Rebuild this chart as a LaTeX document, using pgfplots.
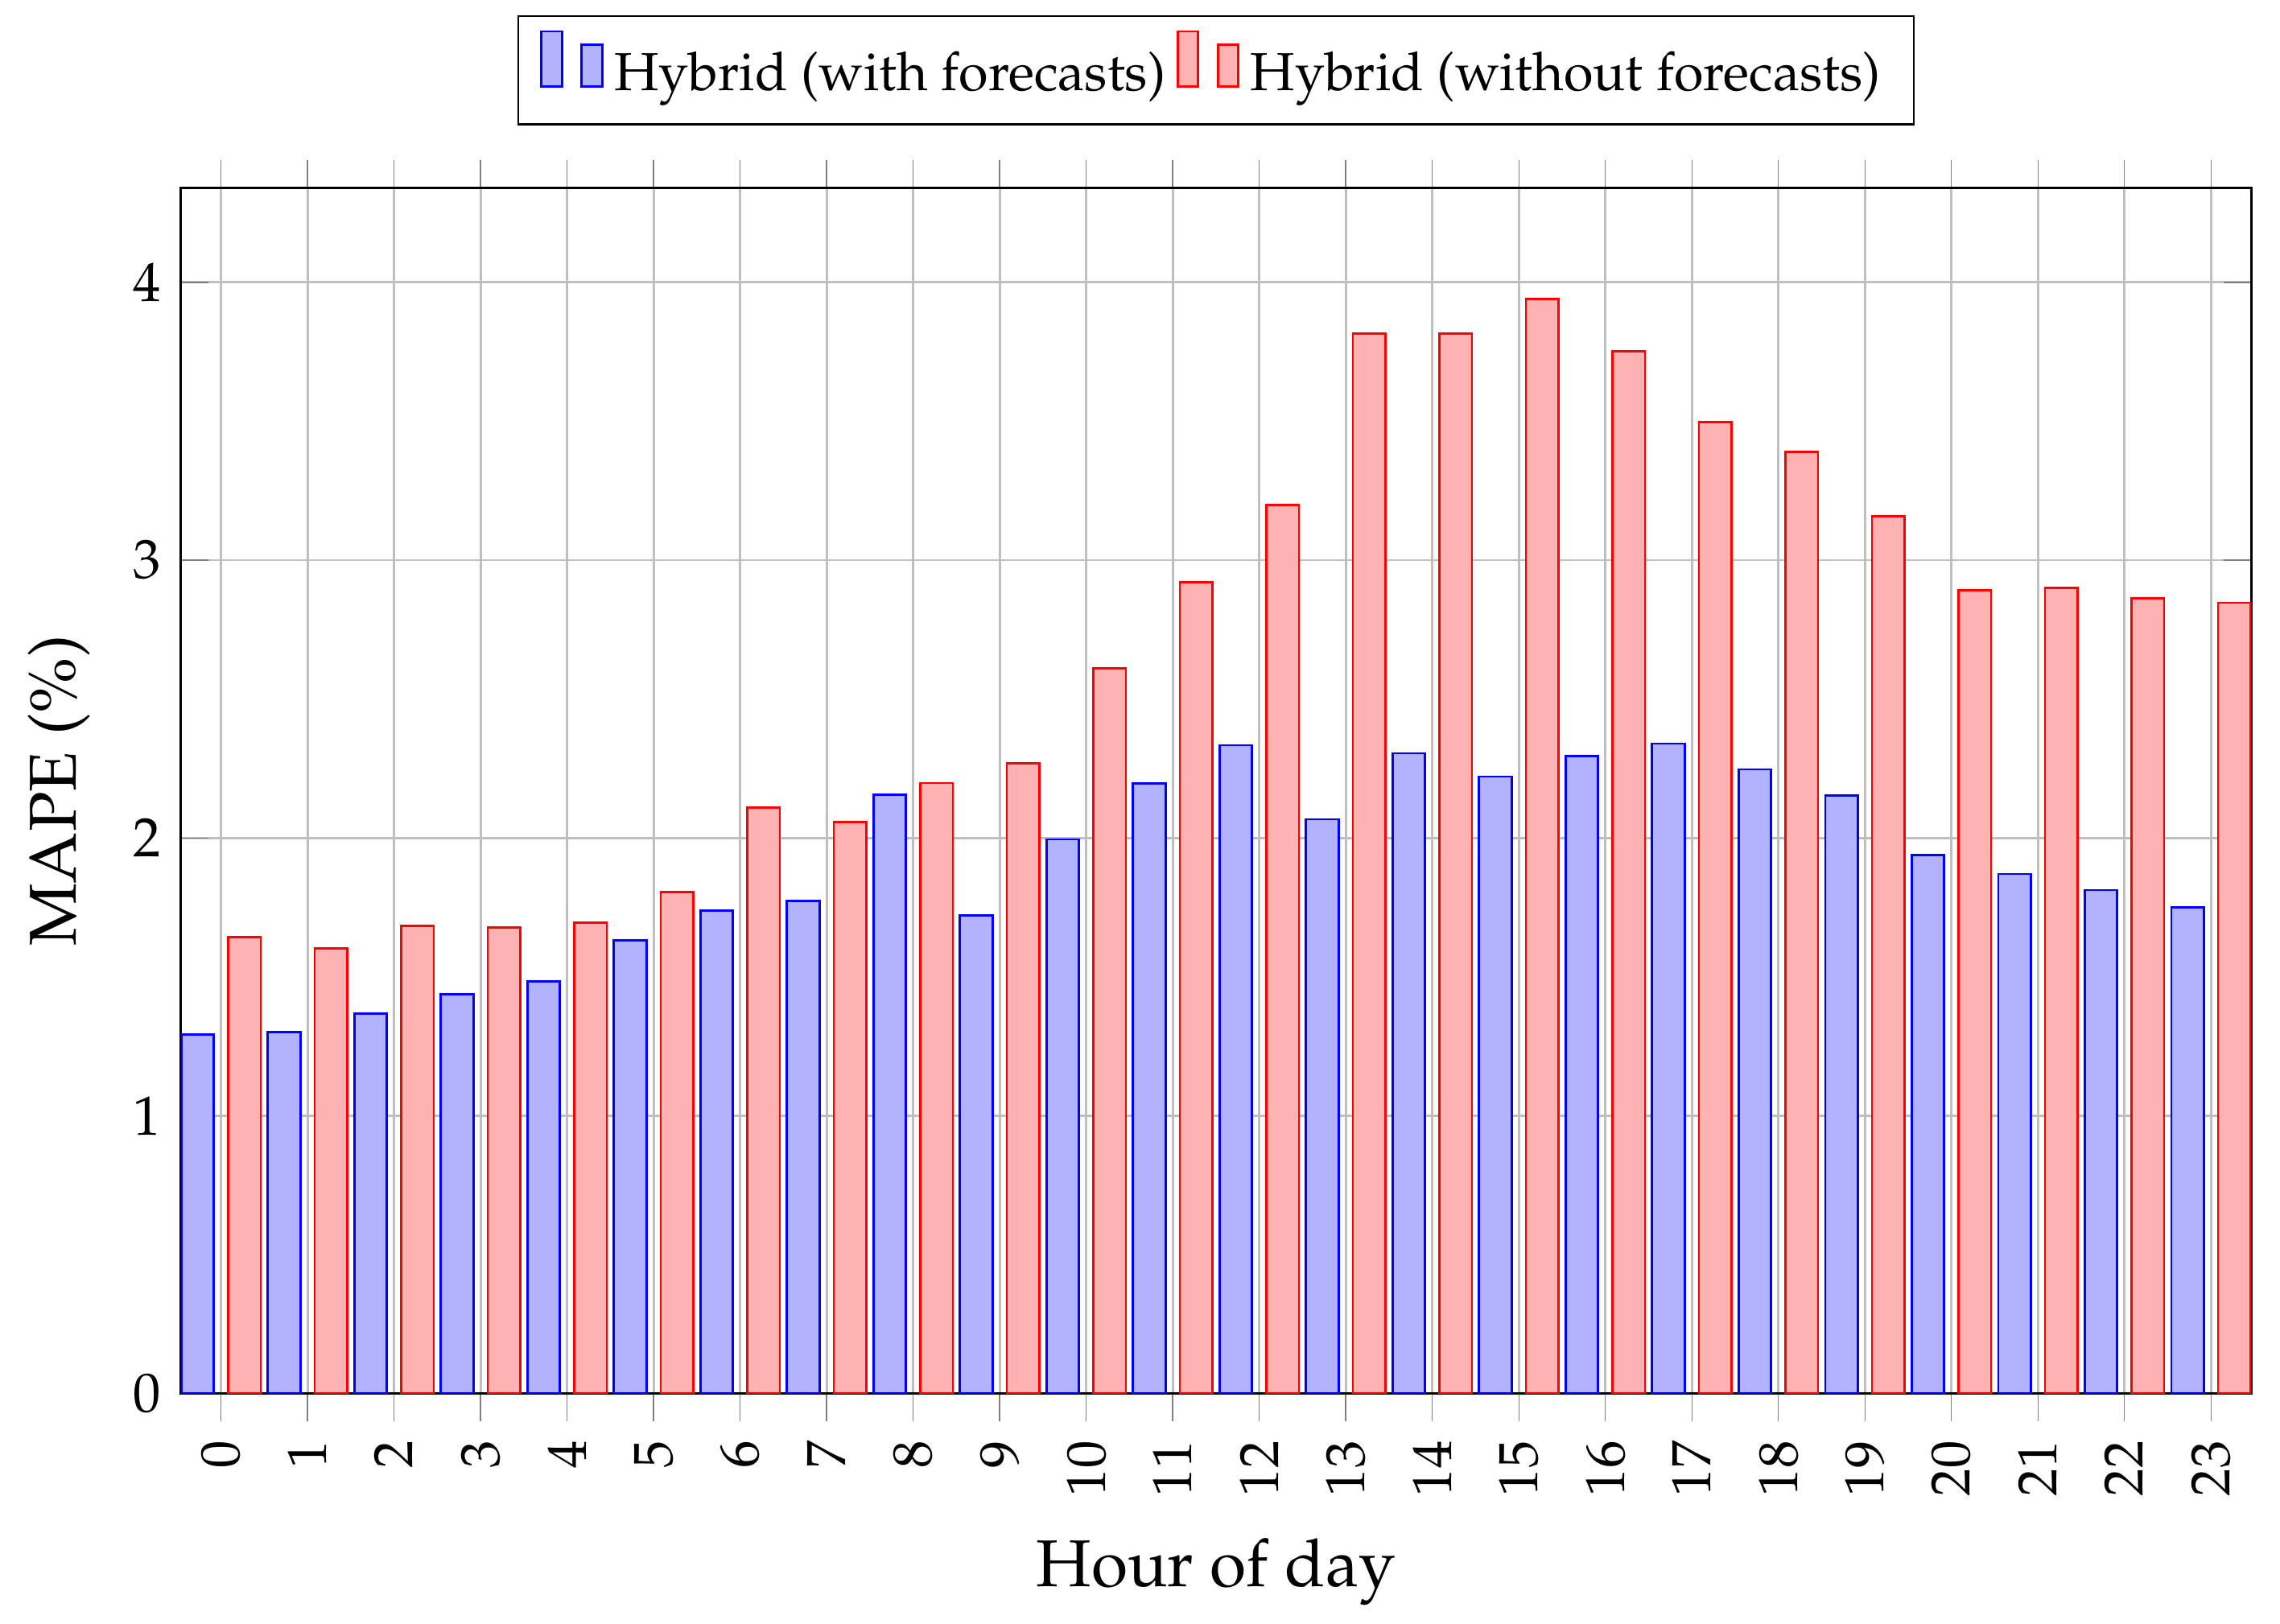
\documentclass[border=0pt]{standalone}
\usepackage[T1]{fontenc}
\IfFileExists{mathpazo.sty}{\usepackage{mathpazo}}{}
\usepackage{pgfplots}
\pgfplotsset{compat=1.18}
\pgfplotstableread{
h blue red
0 1.293 1.644
1 1.302 1.603
2 1.368 1.684
3 1.437 1.678
4 1.483 1.695
5 1.632 1.806
6 1.739 2.109
7 1.773 2.057
8 2.155 2.198
9 1.721 2.269
10 1.995 2.611
11 2.197 2.920
12 2.334 3.198
13 2.068 3.815
14 2.305 3.815
15 2.221 3.941
16 2.296 3.753
17 2.340 3.497
18 2.247 3.390
19 2.153 3.159
20 1.939 2.892
21 1.871 2.900
22 1.813 2.862
23 1.750 2.847
}\mydata
\pgfkeysifdefined{/pgfplots/xtick align/.@cmd}
  {\pgfplotsset{xtick align=outside,ytick align=inside}}
  {\pgfplotsset{tick align=inside}}
\pgfplotsset{/pgfplots/ybar legend/.style={/pgfplots/legend image code/.code={%
  \draw[##1,/tikz/.cd,yshift=-0.2em] (0pt,0pt) rectangle (3.7pt,1.0em)
     (7.3pt,0pt) rectangle (11pt,0.76em);}}}
\begin{document}
\begin{tikzpicture}
\begin{axis}[
  width=375pt, height=218.4pt, scale only axis,
  ybar=2.58pt, bar width=5.9pt,
  xmin=-0.466, xmax=23.466, ymin=0, ymax=4.34,
  xtick={0,...,23}, ytick={0,1,2,3,4},
  xtick pos=both, ytick pos=both,
  grid=major,
  major tick length=5pt,
  xticklabel style={rotate=90, anchor=east},
  xlabel={Hour of day}, ylabel={MAPE (\%)},
  label style={font=\large},
  xlabel shift=0.8pt, ylabel shift=1pt,
  legend columns=2,
  legend style={at={(0.5,1.0516)}, anchor=south, draw=black,
    font=\fontsize{9.7pt}{11.6pt}\selectfont, inner ysep=2.6pt, inner xsep=4pt},
]
\addplot table[x=h,y=blue]{\mydata};
\addplot table[x=h,y=red]{\mydata};
\legend{Hybrid (with forecasts), Hybrid (without forecasts)}
\end{axis}
\path ([shift={(-1.8pt,0pt)}]current bounding box.south west)
      ([shift={(5pt,2.7pt)}]current bounding box.north east);
\end{tikzpicture}
\end{document}
